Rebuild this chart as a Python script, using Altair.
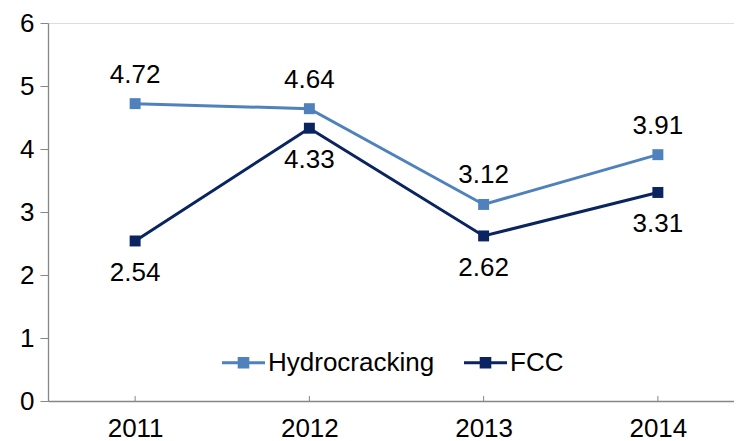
import altair as alt
import pandas as pd

years = ["2011", "2012", "2013", "2014"]
hydrocracking = [4.72, 4.64, 3.12, 3.91]
fcc = [2.54, 4.33, 2.62, 3.31]
series_names = ["Hydrocracking", "FCC"]
series_colors = ["#4F81BD", "#0A2462"]
y_ticks = [0, 1, 2, 3, 4, 5, 6]

rows = []
for y, h, f in zip(years, hydrocracking, fcc):
    rows.append({"year": y, "series": "Hydrocracking", "value": h})
    rows.append({"year": y, "series": "FCC", "value": f})
df = pd.DataFrame(rows)
df_years = pd.DataFrame({"year": years})

W, H = 686, 378
FONT = "Liberation Sans"
FS = 26

x_enc = alt.X("year:O", sort=years,
              scale=alt.Scale(type="point", padding=0.5, range=[0, 697]),
              axis=alt.Axis(title=None, labelAngle=0, ticks=False, labelFontSize=FS,
                            labelFont=FONT, labelColor="black", labelPadding=14,
                            domainColor="#868686", domainWidth=1.3, grid=False))
y_enc = alt.Y("value:Q", scale=alt.Scale(domain=[0, 6], nice=False),
              axis=alt.Axis(title=None, values=y_ticks, labelFontSize=FS, labelFont=FONT,
                            labelColor="black", tickSize=8, tickColor="#868686",
                            domainColor="#868686", domainWidth=1.3, labelPadding=6,
                            grid=False))
color_enc = alt.Color("series:N", sort=series_names,
                      scale=alt.Scale(domain=series_names, range=series_colors),
                      legend=alt.Legend(title=None, orient="none", legendX=172, legendY=316,
                                        direction="horizontal", labelFontSize=FS,
                                        labelFont=FONT, labelColor="black", labelLimit=400,
                                        symbolType="M-1,0L1,0M-0.2,-0.2L0.2,-0.2L0.2,0.2L-0.2,0.2Z",
                                        symbolSize=1850, symbolStrokeWidth=3,
                                        columnPadding=22, labelOffset=1))

base = alt.Chart(df)
lines = base.mark_line(strokeWidth=3).encode(x=x_enc, y=y_enc, color=color_enc)
points = base.mark_point(shape="square", filled=True, size=120, opacity=1).encode(
    x=x_enc, y=y_enc, color=color_enc)

labels_h = base.transform_filter(alt.datum.series == "Hydrocracking").mark_text(
    dy=-29, fontSize=FS, font=FONT, color="black").encode(
    x=x_enc, y=y_enc, text=alt.Text("value:Q", format=".2f"))
labels_f = base.transform_filter(alt.datum.series == "FCC").mark_text(
    dy=32, fontSize=FS, font=FONT, color="black").encode(
    x=x_enc, y=y_enc, text=alt.Text("value:Q", format=".2f"))

ticks = alt.Chart(df_years).mark_rule(color="#868686", strokeWidth=1).encode(
    x=x_enc, y=alt.value(H), y2=alt.value(H - 5))

chart = alt.layer(ticks, lines, points, labels_h, labels_f).properties(
    width=W, height=H,
    autosize=alt.AutoSizeParams(type="none"),
    padding={"left": 40, "top": 15, "right": 0, "bottom": 46},
).configure_view(stroke=None).configure(font=FONT)

chart.save("out.html", embed_options={"renderer": "svg", "actions": False})
